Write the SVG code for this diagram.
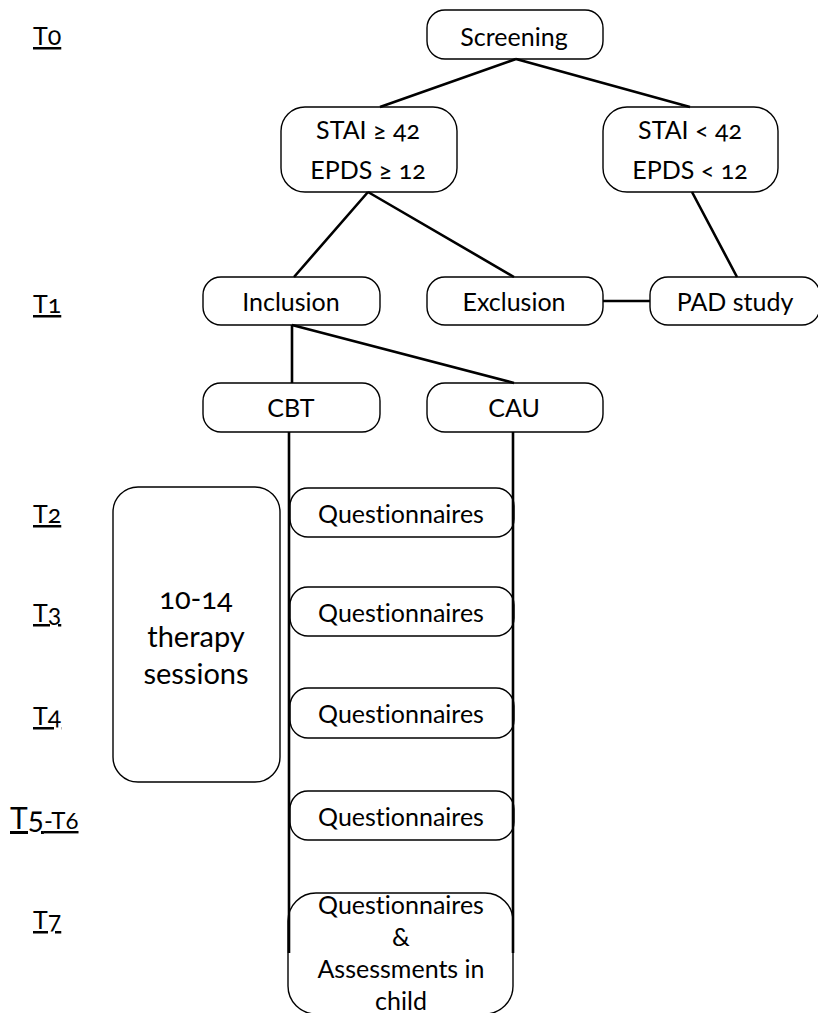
<svg xmlns="http://www.w3.org/2000/svg" width="818" height="1013" viewBox="0 0 818 1013">
<style>
text{font-family:Lato,"Liberation Sans",sans-serif;fill:#000;font-variant-numeric:oldstyle-nums;font-variant-ligatures:none;font-feature-settings:"onum" 1,"liga" 0}
.n{font-size:25px;text-anchor:middle}
.big{font-size:29px;text-anchor:middle}
.t{font-size:25px;text-decoration:underline}
.box{fill:#fff;stroke:#000;stroke-width:1.4}
.c{stroke:#000;stroke-width:2.6;fill:none}
</style>
<rect width="818" height="1013" fill="#fff"/>
<g id="time-labels">
<text class="t" x="33" y="45">T0</text>
<text class="t" x="33" y="313">T1</text>
<text class="t" x="33" y="523">T2</text>
<text class="t" x="33" y="622">T3</text>
<text class="t" x="33" y="725">T4</text>
<text class="t" x="10" y="829" style="font-size:30px">T5<tspan style="font-size:24px">-T6</tspan></text>
<text class="t" x="33" y="929">T7</text>
</g>
<g id="nodes">
<g id="screening"><rect class="box" x="427" y="10" width="176" height="49" rx="18"/><text class="n" x="514" y="46">Screening</text></g>
<g id="high"><rect class="box" x="281" y="107" width="176" height="85" rx="24"/><text class="n" x="368" y="139">STAI ≥ 42</text><text class="n" x="368" y="179">EPDS ≥ 12</text></g>
<g id="low"><rect class="box" x="603" y="107" width="175" height="85" rx="24"/><text class="n" x="690" y="139">STAI &lt; 42</text><text class="n" x="690" y="179">EPDS &lt; 12</text></g>
<g id="inclusion"><rect class="box" x="203" y="277" width="177" height="48" rx="18"/><text class="n" x="291" y="311">Inclusion</text></g>
<g id="exclusion"><rect class="box" x="427" y="277" width="176" height="48" rx="18"/><text class="n" x="514" y="311">Exclusion</text></g>
<g id="pad"><rect class="box" x="650" y="277" width="170" height="48" rx="18"/><text class="n" x="735" y="311">PAD study</text></g>
<g id="cbt"><rect class="box" x="203" y="383" width="177" height="49" rx="18"/><text class="n" x="291" y="417">CBT</text></g>
<g id="cau"><rect class="box" x="427" y="383" width="176" height="49" rx="18"/><text class="n" x="514" y="417">CAU</text></g>
<g id="therapy"><rect class="box" x="113" y="487" width="167" height="295" rx="25"/><text class="big" x="196" y="609">10-14</text><text class="big" x="196" y="647">therapy</text><text class="big" x="196" y="684">sessions</text></g>
<g id="q2"><rect class="box" x="290" y="488" width="224" height="49" rx="18"/><text class="n" x="401" y="523">Questionnaires</text></g>
<g id="q3"><rect class="box" x="290" y="587" width="224" height="49" rx="18"/><text class="n" x="401" y="622">Questionnaires</text></g>
<g id="q4"><rect class="box" x="290" y="688" width="224" height="50" rx="18"/><text class="n" x="401" y="723">Questionnaires</text></g>
<g id="q56"><rect class="box" x="290" y="791" width="224" height="49" rx="18"/><text class="n" x="401" y="826">Questionnaires</text></g>
<g id="q7"><rect class="box" x="288" y="893" width="225" height="121" rx="28"/><text class="n" x="401" y="914">Questionnaires</text><text class="n" x="401" y="946">&amp;</text><text class="n" x="401" y="978">Assessments in</text><text class="n" x="401" y="1010">child</text></g>
</g>
<g id="connectors">
<path class="c" d="M516 59L380 107M516 59L690 107M368 192L294 277M368 192L514 277M692 192L737 277M603 301H650M292 325V383M292 325L514 383M289 432V953M513 432V953"/>
</g>
</svg>
